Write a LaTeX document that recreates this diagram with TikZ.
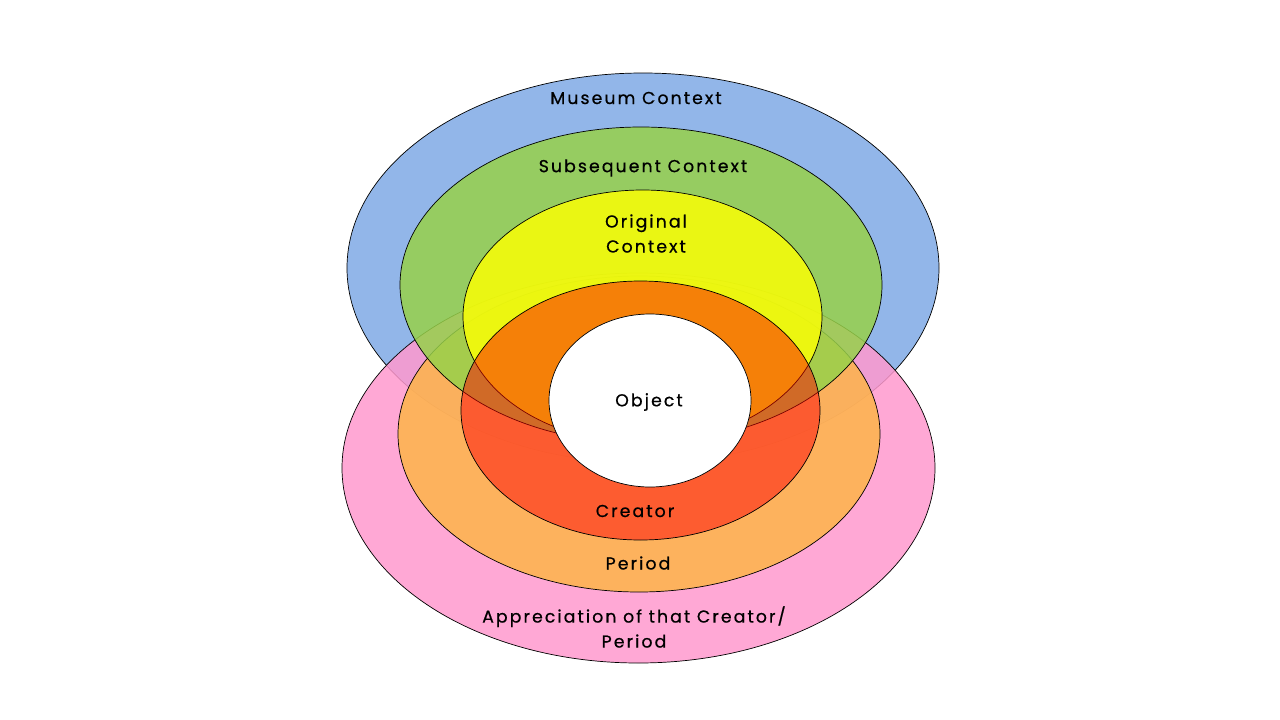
\documentclass[tikz,border=0pt]{standalone}
\usepackage{fontspec}
\setmainfont{Poppins}[LetterSpace=12,FakeBold=0.6]
\usetikzlibrary{shapes.geometric}
\definecolor{cblue}{RGB}{127,170,230}
\definecolor{cpink}{RGB}{255,153,206}
\definecolor{corange}{RGB}{253,180,73}
\definecolor{cgreen}{RGB}{151,209,74}
\definecolor{cyellow}{RGB}{249,254,6}
\tikzset{
  ring/.style={ellipse, draw=black, line width=0.7pt, inner sep=0pt, outer sep=0pt},
  lbl/.style={font=\fontsize{17.3}{25}\selectfont, align=center, text=black, inner sep=0pt}
}
\begin{document}
\begin{tikzpicture}[x=1pt,y=-1pt]
\path[fill=white] (0,0) rectangle (1280,720);
\useasboundingbox (0,0) rectangle (1280,720);
% layers, bottom to top
\node[ring, fill=cblue, fill opacity=0.85, minimum width=592pt, minimum height=390pt] (museum) at (643,268) {};
\node[ring, fill=cpink, fill opacity=0.85, minimum width=593pt, minimum height=390pt] (apprec) at (638.5,468) {};
\node[ring, fill=corange, fill opacity=0.85, minimum width=482pt, minimum height=316pt] (period) at (639,434) {};
\node[ring, fill=cgreen, fill opacity=0.85, minimum width=482pt, minimum height=316pt] (subseq) at (641,285) {};
\node[ring, fill=cyellow, fill opacity=0.85, minimum width=359pt, minimum height=253pt] (orig) at (642.5,316.5) {};
\node[ring, fill=red, fill opacity=0.48, minimum width=359pt, minimum height=259pt] (creator) at (640.5,410.5) {};
\node[ring, fill=white, minimum width=202pt, minimum height=173pt] (object) at (650,400.5) {};
% labels
\node[lbl] (tmuseum) at (636,98) {Museum Context};
\node[lbl] (tsubseq) at (643,168) {Subsequent Context};
\node[lbl] (torig) at (646,233.5) {Original\\Context};
\node[lbl] (tobject) at (649,402) {Object};
\node[lbl] (tcreator) at (635,511) {Creator};
\node[lbl] (tperiod) at (638,563) {Period};
\node[lbl] (tapprec) at (634,627) {Appreciation of that Creator/\\Period};
\end{tikzpicture}
\end{document}
